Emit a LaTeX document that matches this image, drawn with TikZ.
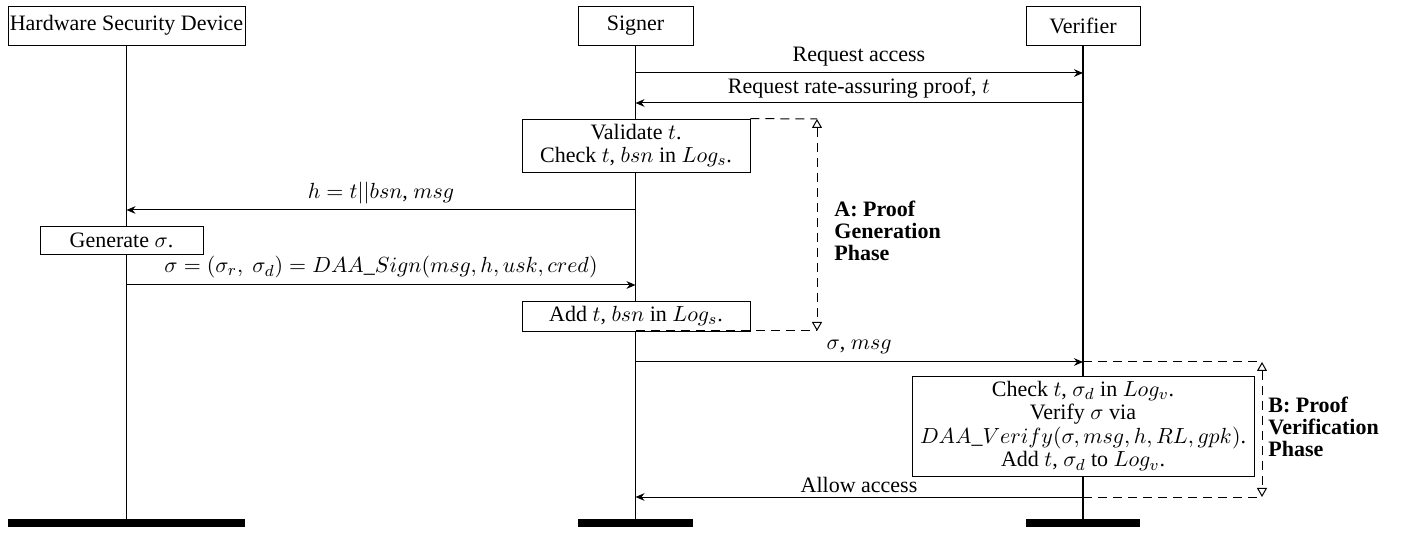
\documentclass[tikz,border=0pt]{standalone}
\usepackage{fontspec}
\setmainfont{Liberation Serif}
\usetikzlibrary{arrows.meta}
\begin{document}
\begin{tikzpicture}[x=0.5pt,y=-0.5pt,
  every node/.style={font=\fontsize{11}{11.5}\selectfont},
  actor/.style={draw, fill=white, inner sep=0pt, minimum height=19.5pt},
  actbox/.style={draw, fill=white, inner sep=0pt, align=center, font=\fontsize{11}{11.3}\selectfont},
  life/.style={line width=0.9pt},
  msg/.style={-{Stealth[length=4.5pt,width=3.8pt]}, line width=0.5pt},
  phase/.style={dash pattern=on 4.5pt off 3pt, line width=0.5pt},
  phasearrow/.style={dash pattern=on 4.5pt off 3pt, line width=0.5pt, {Triangle[open,length=4.5pt,width=5pt]}-{Triangle[open,length=4.5pt,width=5pt]}},
  phaselabel/.style={anchor=north west, align=left, inner sep=0pt, font=\fontsize{11}{11}\selectfont\bfseries},
  bar/.style={fill=black, draw=none}]
\useasboundingbox (0,0) rectangle (1412,533);
% actors
\node[actor, minimum width=118.5pt] (hsd) at (126.5,25.5) {Hardware Security Device};
\node[actor, minimum width=57.5pt] (sig) at (635.5,25.5) {Signer};
\node[actor, minimum width=57pt] (ver) at (1083,25.5) {Verifier};
% bottom bars
\coordinate (hsdend) at (126.5,519);
\coordinate (sigend) at (635.5,519);
\coordinate (verend) at (1083,519);
\fill[bar] (8,519) rectangle (245,527);
\fill[bar] (578,519) rectangle (693,527);
\fill[bar] (1026,519) rectangle (1140,527);
% lifelines
\draw[life] (hsd.south) -- (hsdend);
\draw[life] (sig.south) -- (sigend);
\draw[life] (ver.south) -- (verend);
% coordinates on lifelines
\coordinate (s1) at (635.5,73);  \coordinate (v1) at (1083,73);
\coordinate (s2) at (635.5,103); \coordinate (v2) at (1083,103);
\coordinate (s3) at (635.5,210); \coordinate (h3) at (126.5,210);
\coordinate (s4) at (635.5,285); \coordinate (h4) at (126.5,285);
\coordinate (s5) at (635.5,362); \coordinate (v5) at (1083,362);
\coordinate (s6) at (635.5,497); \coordinate (v6) at (1083,497);
% messages
\draw[msg] (s1) -- (v1);
\node (l1) at (859,57) {Request access};
\draw[msg] (v2) -- (s2);
\node (l2) at (859,88) {Request rate-assuring proof, $t$};
% phase A
\node[actbox, minimum width=114pt, minimum height=26.5pt] (val) at (636,145.5) {Validate $t$.\\Check $t$, $bsn$ in $Log_s$.};
\draw[msg] (s3) -- (h3);
\node (l3) at (381,193) {$h=t||bsn$, $msg$};
\node[actbox, minimum width=81.5pt, minimum height=14pt] (gen) at (121.5,240) {Generate $\sigma$.};
\draw[msg] (h4) -- (s4);
\node (l4) at (381,267) {$\sigma=(\sigma_r,\ \sigma_d)=DAA\_Sign(msg,h,usk,cred)$};
\node[actbox, minimum width=114pt, minimum height=15pt] (add) at (636,316) {Add $t$, $bsn$ in $Log_s$.};
\coordinate (at) at (817,119);
\coordinate (ab) at (817,331);
\draw[phase] (val.north east) -- (at);
\draw[phase] (636,331) -- (ab);
\draw[phasearrow] (at) -- (ab);
\node[phaselabel] (la) at (834,201) {A: Proof\\Generation\\Phase};
% phase B
\draw[msg] (s5) -- (v5);
\node (l5) at (859,347) {$\sigma$, $msg$};
\node[actbox, minimum width=171pt, minimum height=50pt, font=\fontsize{11}{11.8}\selectfont] (chk) at (1083,426) {Check $t$, $\sigma_d$ in $Log_v$.\\Verify $\sigma$ via\\$DAA\_Verify(\sigma,msg,h,RL,gpk)$.\\Add $t$, $\sigma_d$ to $Log_v$.};
\draw[msg] (v6) -- (s6);
\node (l6) at (859,485) {Allow access};
\coordinate (bt) at (1262,362);
\coordinate (bb) at (1262,497);
\draw[phase] (v5) -- (bt);
\draw[phase] (v6) -- (bb);
\draw[phasearrow] (bt) -- (bb);
\node[phaselabel] (lb) at (1268,397) {B: Proof\\Verification\\Phase};
\end{tikzpicture}
\end{document}
